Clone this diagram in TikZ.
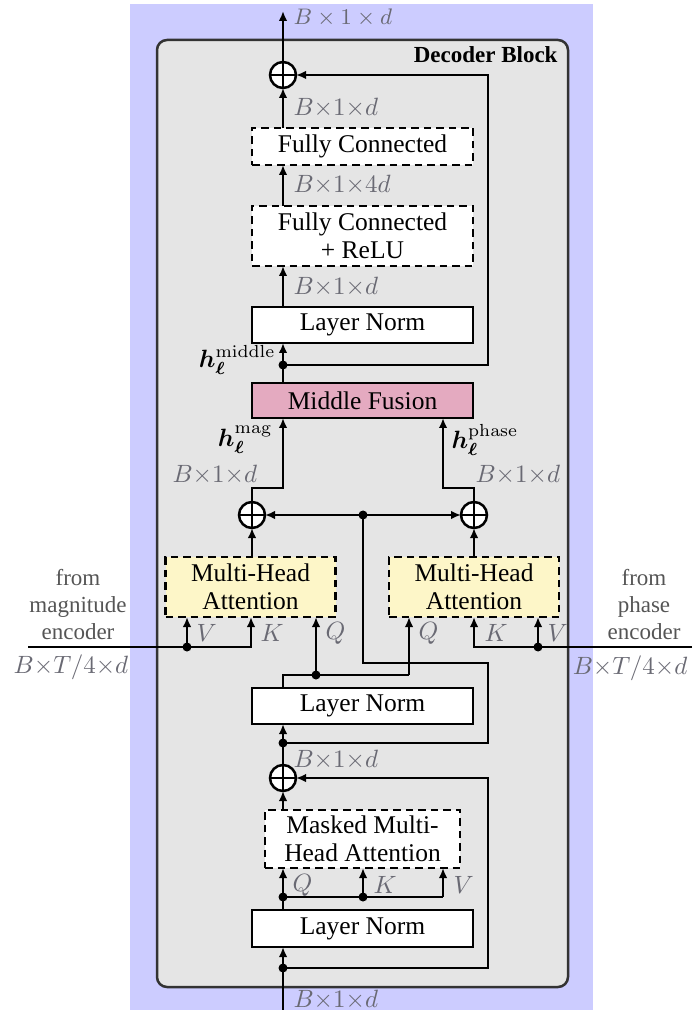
\documentclass[tikz,border=0pt]{standalone}
\usepackage{amsmath,amssymb,bm}
\usepackage[no-math]{fontspec}
\setmainfont{Liberation Serif}
\usetikzlibrary{arrows.meta}
\definecolor{lav}{RGB}{204,204,255}
\definecolor{blockgray}{RGB}{229,229,229}
\definecolor{fusionpink}{RGB}{228,170,192}
\definecolor{attyellow}{RGB}{253,246,200}
\definecolor{dimgray}{RGB}{105,105,115}
\definecolor{sidegray}{RGB}{85,85,85}

\tikzset{
  conn/.style={line width=1pt},
  arr/.style={conn,-{Latex[length=4pt,width=3.4pt]}},
  box/.style={draw,line width=1pt,fill=white,inner sep=0pt,outer sep=0pt,
    minimum width=88.4pt,font=\fontsize{10.2}{11}\selectfont,align=center},
  dbox/.style={box,dash pattern=on 3pt off 2pt},
  sum/.style={circle,draw,line width=1pt,fill=white,minimum size=10.4pt,
    inner sep=0pt,outer sep=0pt,
    path picture={\draw[line width=0.45pt]
      (path picture bounding box.north) -- (path picture bounding box.south)
      (path picture bounding box.west) -- (path picture bounding box.east);}},
  dim/.style={text=dimgray,font=\fontsize{10}{12}\selectfont,anchor=west,inner sep=0pt},
  qkv/.style={text=dimgray,font=\fontsize{10}{12}\selectfont,anchor=west,inner sep=0pt},
  hlab/.style={inner sep=0pt,font=\fontsize{10}{12}\selectfont},
  side/.style={text=sidegray,align=center,inner sep=0pt,font=\fontsize{9.2}{10.8}\selectfont},
}

\begin{document}
\begin{tikzpicture}[x=0.4pt,y=-0.4pt]
\useasboundingbox (0,0) rectangle (692,1010);

% backgrounds
\fill[lav] (130,4) rectangle (593,1010);
\draw[line width=1pt,draw=black!80,fill=blockgray,rounded corners=4pt]
  (157,40) rectangle (568,987);
\node[anchor=east,inner sep=0pt,font=\bfseries\fontsize{9.2}{11}\selectfont] (title)
  at (558,55) {Decoder Block};

% blocks
\node[sum] (plusTop) at (283,75) {};
\node[dbox,minimum height=14.8pt] (fc2) at (362.5,146.5) {Fully Connected};
\node[dbox,minimum height=24pt] (fc1) at (362.5,236) {Fully Connected\\+ ReLU};
\node[box,minimum height=14.4pt] (ln3) at (362.5,325) {Layer Norm};
\node[box,fill=fusionpink,minimum height=14pt] (mf) at (362.5,400.5) {Middle Fusion};
\node[sum] (lc) at (252,515) {};
\node[sum] (rc) at (474,515) {};
\node[dbox,fill=attyellow,minimum width=68pt,minimum height=24pt] (mhaL) at (250.5,587) {Multi-Head\\Attention};
\node[dbox,fill=attyellow,minimum width=68pt,minimum height=24pt] (mhaR) at (474,587) {Multi-Head\\Attention};
\node[box,minimum height=14.4pt] (ln2) at (362.5,706) {Layer Norm};
\node[sum] (plusMid) at (283,778) {};
\node[dbox,minimum width=78pt,minimum height=23.2pt] (mmha) at (362.5,839) {Masked Multi-\\Head Attention};
\node[box,minimum height=14.8pt] (ln1) at (362.5,928.5) {Layer Norm};

% routing points
\coordinate (out) at (283,11);
\coordinate (in) at (283,1010);
\coordinate (j1) at (283,968);
\coordinate (j2) at (283,743);
\coordinate (j3) at (283,365);
\coordinate (rx) at (488,500);
\coordinate (mb) at (283,488);
\coordinate (pb) at (443,488);
\coordinate (cd) at (363,515);
\coordinate (cc) at (363,663);
\coordinate (qs) at (283,675);
\coordinate (qd) at (316,675);
\coordinate (qr) at (409,675);
\coordinate (magIn) at (28,647);
\coordinate (magV) at (187,647);
\coordinate (kL) at (251,647);
\coordinate (phIn) at (692,647);
\coordinate (phV) at (538,647);
\coordinate (kR) at (474,647);
\coordinate (qd0) at (283,897);
\coordinate (kd) at (363,897);
\coordinate (vd) at (443,897);

% upper stack
\draw[arr] (plusTop.north) -- (out);
\draw[arr] (fc2.north -| plusTop) -- (plusTop.south);
\draw[arr] (fc1.north -| plusTop) -- (fc2.south -| plusTop);
\draw[arr] (ln3.north -| plusTop) -- (fc1.south -| plusTop);
\draw[arr] (mf.north -| j3) -- (ln3.south -| j3);
\draw[arr] (j3) -- (j3 -| rx) |- (plusTop.east);

% fusion inputs
\draw[arr] (lc.north) |- (mb) -- (mf.south -| mb);
\draw[arr] (rc.north) |- (pb) -- (mf.south -| pb);
\draw[arr] (mhaL.north -| lc) -- (lc.south);
\draw[arr] (mhaR.north -| rc) -- (rc.south);
\draw[arr] (cd) -- (lc.east);
\draw[arr] (cd) -- (rc.west);
\draw[conn] (cd) -- (cc) -- (cc -| rx) -- (j2 -| rx) -- (j2);

% queries from the second layer norm
\draw[conn] (ln2.north -| qs) -- (qs) -- (qr);
\draw[arr] (qd) -- (mhaL.south -| qd);
\draw[arr] (qr) -- (mhaR.south -| qr);

% encoder inputs
\draw[arr] (magIn) -- (kL) -- (mhaL.south -| kL);
\draw[arr] (magV) -- (mhaL.south -| magV);
\draw[arr] (phIn) -- (kR) -- (mhaR.south -| kR);
\draw[arr] (phV) -- (mhaR.south -| phV);

% lower stack
\draw[conn] (plusMid.north) -- (j2);
\draw[arr] (j2) -- (ln2.south -| j2);
\draw[arr] (mmha.north -| plusMid) -- (plusMid.south);
\draw[arr] (j1) -- (j1 -| rx) |- (plusMid.east);
\draw[arr] (ln1.north -| qd0) -- (mmha.south -| qd0);
\draw[conn] (qd0) -- (vd);
\draw[arr] (kd) -- (mmha.south -| kd);
\draw[arr] (vd) -- (mmha.south -| vd);
\draw[arr] (in) -- (ln1.south -| in);

% junction dots
\foreach \p in {j1,j2,j3,cd,qd,magV,phV,qd0,kd}
  \fill (\p) circle (1.8pt);

% dimension labels
\node[dim,font=\fontsize{9}{11}\selectfont] (dOut) at (293,18) {$B \times 1 \times d$};
\node[dim] (d1) at (293,108) {$B{\times}1{\times}d$};
\node[dim] (d2) at (293,185) {$B{\times}1{\times}4d$};
\node[dim] (d3) at (293,287) {$B{\times}1{\times}d$};
\node[dim] (d4) at (172,475) {$B{\times}1{\times}d$};
\node[dim] (d5) at (475,475) {$B{\times}1{\times}d$};
\node[dim] (d6) at (293,760) {$B{\times}1{\times}d$};
\node[dim] (d7) at (293,1000) {$B{\times}1{\times}d$};
\node[dim,anchor=center] (magDim) at (71,667) {$B{\times}T/4{\times}d$};
\node[dim,anchor=center] (phDim) at (630,668) {$B{\times}T/4{\times}d$};

% attention input labels
\node[qkv] (vL) at (196,633) {$V$};
\node[qkv] (kLl) at (260,633) {$K$};
\node[qkv] (qL) at (325,633) {$Q$};
\node[qkv] (qR) at (418,633) {$Q$};
\node[qkv] (kRl) at (484,633) {$K$};
\node[qkv] (vR) at (547,633) {$V$};
\node[qkv] (qM) at (292,885) {$Q$};
\node[qkv] (kM) at (373,885) {$K$};
\node[qkv] (vM) at (453,885) {$V$};

% hidden-state labels
\node[hlab,anchor=east] (hMid) at (276,360) {$\boldsymbol{h}_{\boldsymbol{\ell}}^{\mathrm{middle}}$};
\node[hlab,anchor=east] (hMag) at (273,440) {$\boldsymbol{h}_{\boldsymbol{\ell}}^{\mathrm{mag}}$};
\node[hlab,anchor=west] (hPh) at (451,440) {$\boldsymbol{h}_{\boldsymbol{\ell}}^{\mathrm{phase}}$};

% encoder sources
\node[side] (fromMag) at (78,605) {from\\magnitude\\encoder};
\node[side] (fromPh) at (644,605) {from\\phase\\encoder};
\end{tikzpicture}
\end{document}
